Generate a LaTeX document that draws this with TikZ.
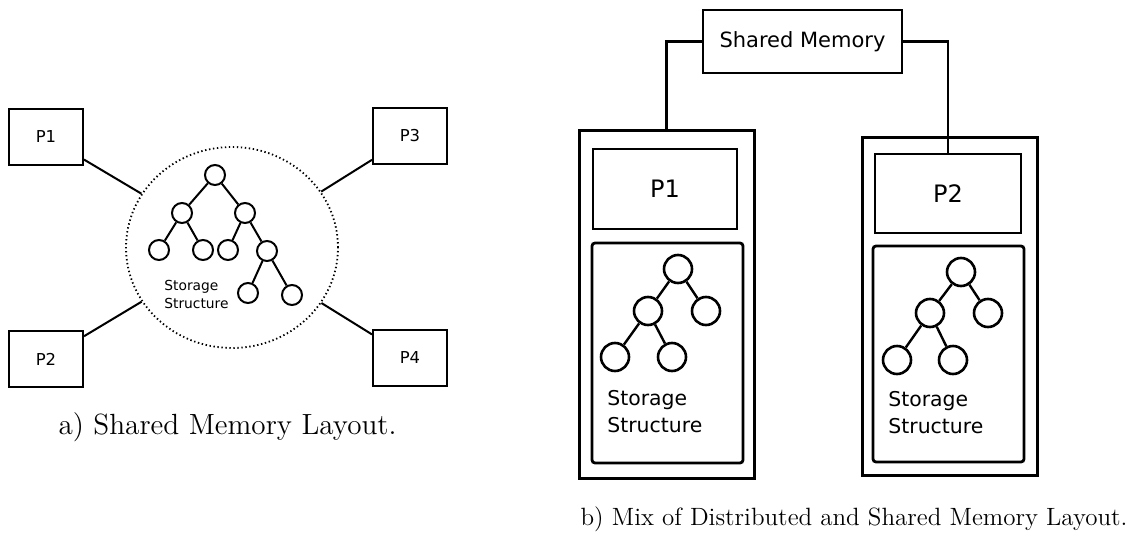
\documentclass[tikz,border=0pt]{standalone}
\usepackage{fontspec}
\usepackage{tikz}
\usetikzlibrary{shapes.geometric}
\newfontfamily\dejavu{DejaVu Sans}

\begin{document}
\begin{tikzpicture}[x=0.5pt,y=-0.5pt, every node/.style={inner sep=0pt,font=\dejavu}, pbox/.style={draw,line width=1pt,minimum width=37pt,minimum height=28pt,font=\dejavu\fontsize{8.2}{10}\selectfont}, leaf/.style={draw,circle,line width=1pt,minimum size=10pt}, bigleaf/.style={draw,circle,line width=1.3pt,minimum size=14pt}, frame/.style={draw,line width=1.5pt,minimum width=87.5pt}, cell/.style={draw,line width=1.4pt,minimum width=72.5pt}, note/.style={align=left,anchor=west,font=\dejavu\fontsize{10.2}{13.5}\selectfont}, caption/.style={anchor=base,font=\fontsize{14.6}{17}\selectfont}]
\useasboundingbox (0,0) rectangle (1133,535);
% shared memory layout
\node[pbox] (p1) at (46,137) {P1};
\node[pbox] (p2) at (46,359) {P2};
\node[pbox] (p3) at (410,136) {P3};
\node[pbox] (p4) at (410,358) {P4};
\node[draw,ellipse,line width=0.9pt,dash pattern=on 0.7pt off 1.3pt,minimum width=106pt,minimum height=100.5pt] (mem) at (232,247.5) {};
\foreach \x in {p1,p2,p3,p4}{\draw[line width=1pt] (\x)--(mem);}
\node[leaf] (la) at (215,175) {};
\node[leaf] (lb) at (182,213) {};
\node[leaf] (lc) at (245,213) {};
\node[leaf] (ld) at (159,250) {};
\node[leaf] (le) at (203,250) {};
\node[leaf] (lf) at (228,250) {};
\node[leaf] (lg) at (267,251) {};
\node[leaf] (lh) at (248,293) {};
\node[leaf] (li) at (292,295) {};
\foreach \x/\y in {la/lb,la/lc,lb/ld,lb/le,lc/lf,lc/lg,lg/lh,lg/li}{\draw[line width=1pt] (\x)--(\y);}
\node[note,font=\dejavu\fontsize{6.9}{9}\selectfont] (lt) at (164,294) {Storage\\Structure};
\node[caption] (capa) at (227.5,434) {a) Shared Memory Layout.};
% mixed layout
\node[draw,line width=1.4pt,minimum width=99.5pt,minimum height=31.5pt,font=\dejavu\fontsize{10.5}{12}\selectfont] (sm) at (802.5,41.5) {Shared Memory};
\node[frame,minimum height=174pt] (o1) at (666.5,304) {};
\node[frame,minimum height=169pt] (o2) at (949.5,306) {};
\node[cell,minimum width=72pt,minimum height=40pt,font=\dejavu\fontsize{12}{14}\selectfont] (q1) at (665,189) {P1};
\node[cell,minimum width=73pt,minimum height=39.5pt,font=\dejavu\fontsize{12}{14}\selectfont] (q2) at (948,193.5) {P2};
\node[cell,rounded corners=1.5pt,minimum width=75.5pt,minimum height=110pt] (s1) at (667.5,353) {};
\node[cell,rounded corners=1.5pt,minimum width=75.5pt,minimum height=108pt] (s2) at (948.5,354) {};
\draw[line width=1.2pt] (sm.west) -| (o1.north);
\draw[line width=1.2pt] (sm.east) -| (q2.north);
\node[bigleaf] (ma) at (678,269) {};
\node[bigleaf] (mb) at (648,311) {};
\node[bigleaf] (mc) at (706,311) {};
\node[bigleaf] (md) at (615,357) {};
\node[bigleaf] (me) at (672,357) {};
\node[bigleaf] (na) at (961,272) {};
\node[bigleaf] (nb) at (930,313) {};
\node[bigleaf] (nc) at (988,313) {};
\node[bigleaf] (nd) at (897,360) {};
\node[bigleaf] (ne) at (953,360) {};
\foreach \t in {m,n}{\foreach \x/\y in {a/b,a/c,b/d,b/e}{\draw[line width=1.2pt] (\t\x)--(\t\y);}}
\node[note] (mt) at (607,412) {Storage\\Structure};
\node[note] (nt) at (888,413) {Storage\\Structure};
\node[caption,font=\fontsize{12.5}{15}\selectfont] (capb) at (854,525) {b) Mix of Distributed and Shared Memory Layout.};
\end{tikzpicture}
\end{document}
